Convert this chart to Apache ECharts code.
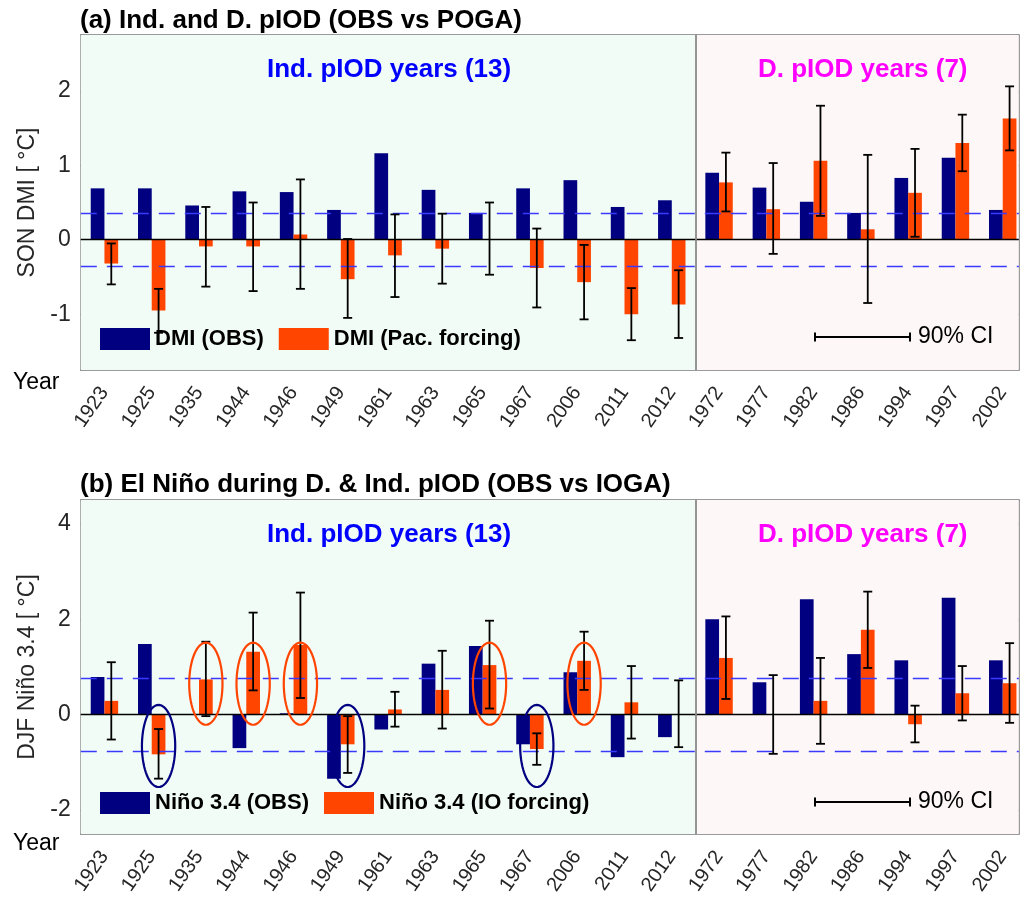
<!DOCTYPE html>
<html>
<head>
<meta charset="utf-8">
<script src="https://cdn.jsdelivr.net/npm/echarts@6/dist/echarts.min.js"></script>
<style>
  html, body { margin: 0; padding: 0; background: #fff; }
  #chart { width: 1026px; height: 901px; }
</style>
</head>
<body>
<div id="chart"></div>
<script>
// years: 13 independent pIOD years, then 7 dependent ones
const years = ['1923', '1925', '1935', '1944', '1946', '1949', '1961', '1963', '1965', '1967', '2006', '2011', '2012',
               '1972', '1977', '1982', '1986', '1994', '1997', '2002'];

// (a) SON DMI
const dmiObs  = [0.69, 0.69, 0.46, 0.65, 0.64, 0.40, 1.16, 0.67, 0.36, 0.69, 0.80, 0.44, 0.53, 0.90, 0.70, 0.51, 0.36, 0.83, 1.10, 0.40];
const dmiPac  = [-0.32, -0.95, -0.09, -0.09, 0.07, -0.53, -0.21, -0.12, 0.01, -0.38, -0.57, -1.00, -0.87, 0.77, 0.41, 1.06, 0.14, 0.63, 1.30, 1.63];
const dmiLow  = [-0.60, -1.25, -0.63, -0.69, -0.66, -1.05, -0.77, -0.59, -0.47, -0.91, -1.07, -1.35, -1.32, 0.38, -0.19, 0.32, -0.85, 0.04, 0.92, 1.20];
const dmiHigh = [-0.05, -0.66, 0.44, 0.50, 0.81, 0.01, 0.34, 0.35, 0.50, 0.15, -0.07, -0.65, -0.41, 1.17, 1.03, 1.80, 1.14, 1.22, 1.68, 2.06];
const dmiThr = 0.35;

// (b) DJF Nino 3.4
const ninoObs  = [0.79, 1.48, 0.01, -0.70, 0.03, -1.34, -0.31, 1.07, 1.44, -0.62, 0.89, -0.89, -0.47, 2.00, 0.68, 2.42, 1.27, 1.14, 2.45, 1.14];
const ninoIO   = [0.29, -0.83, 0.74, 1.32, 1.46, -0.62, 0.11, 0.52, 1.04, -0.72, 1.13, 0.26, 0.01, 1.19, 0.01, 0.29, 1.78, -0.20, 0.45, 0.66];
const ninoLow  = [-0.52, -1.34, -0.03, 0.51, 0.35, -1.22, -0.25, -0.29, 0.13, -1.05, 0.52, -0.50, -0.68, 0.33, -0.82, -0.61, 0.98, -0.58, -0.12, -0.17];
const ninoHigh = [1.10, -0.30, 1.53, 2.14, 2.56, -0.03, 0.48, 1.34, 1.97, -0.39, 1.74, 1.02, 0.72, 2.06, 0.83, 1.19, 2.58, 0.19, 1.02, 1.50];
const ninoThr = 0.77;

// circled years in (b) (1-based position), ring centre values
const orangeRings = [3, 4, 5, 9, 11];
const navyRings = [2, 6, 10];
const orangeRingY = 0.65;
const navyRingY = -0.655;

const NAVY = '#000080';
const ORANGE = '#ff4500';
const FONT = 'Liberation Sans, Arial, Helvetica, sans-serif';
const BW = 0.29;       // bar width in x units
const XMAX = 20.34;
const nInd = 13;

const chart = echarts.init(document.getElementById('chart'));

function xAxes(grid, bottom) {
  const ticks = [2, 4, 6, 8, 10, 12, 14, 16, 18, 20];
  return {
    type: 'value', gridIndex: grid, position: bottom ? 'bottom' : 'top',
    min: 0.5, max: XMAX,
    axisLine: { show: true, onZero: false, lineStyle: { color: '#7a7a7a', width: 1.5 } },
    axisTick: { show: true, inside: true, length: 9, customValues: ticks, lineStyle: { color: '#333', width: 1.2 } },
    axisLabel: bottom ? {
      show: true, customValues: years.map((y, i) => i + 1), rotate: 55, margin: 19,
      fontSize: 20, fontFamily: FONT, color: '#262626',
      formatter: v => years[Math.round(v) - 1]
    } : { show: false },
    splitLine: { show: false }
  };
}

function yAxes(grid, left, min, max, ticks, name) {
  return {
    type: 'value', gridIndex: grid, position: left ? 'left' : 'right',
    min: min, max: max,
    name: left ? name : '', nameLocation: 'middle', nameGap: 41,
    nameTextStyle: { fontSize: 23, fontFamily: FONT, color: '#262626' },
    axisLine: { show: true, onZero: false, lineStyle: { color: '#7a7a7a', width: 1.5 } },
    axisTick: { show: true, inside: true, length: 9, customValues: ticks, lineStyle: { color: '#333', width: 1.2 } },
    axisLabel: left ? { show: true, customValues: ticks, margin: 10, fontSize: 23, fontFamily: FONT, color: '#262626' } : { show: false },
    splitLine: { show: false }
  };
}

function barSeries(name, vals, color, side, ax) {
  return {
    type: 'custom', name: name, xAxisIndex: ax * 2, yAxisIndex: ax * 2, z: 3,
    itemStyle: { color: color },
    data: vals.map((v, i) => [i + 1, v]),
    renderItem: function (params, api) {
      const x = api.value(0), v = api.value(1);
      const x0 = side < 0 ? x - BW : x;
      const x1 = side < 0 ? x : x + BW;
      const p0 = api.coord([x0, v]);
      const p1 = api.coord([x1, 0]);
      return {
        type: 'rect',
        shape: { x: p0[0], y: Math.min(p0[1], p1[1]), width: p1[0] - p0[0], height: Math.abs(p1[1] - p0[1]) },
        style: { fill: color }
      };
    }
  };
}

function errSeries(low, high, ax) {
  return {
    type: 'custom', xAxisIndex: ax * 2, yAxisIndex: ax * 2, z: 5, silent: true,
    data: low.map((l, i) => [i + 1 + BW / 2, l, high[i]]),
    renderItem: function (params, api) {
      const a = api.coord([api.value(0), api.value(1)]);
      const b = api.coord([api.value(0), api.value(2)]);
      const st = { stroke: '#000', lineWidth: 1.8 };
      return {
        type: 'group', children: [
          { type: 'line', shape: { x1: a[0], y1: a[1], x2: b[0], y2: b[1] }, style: st },
          { type: 'line', shape: { x1: a[0] - 4.5, y1: a[1], x2: a[0] + 4.5, y2: a[1] }, style: st },
          { type: 'line', shape: { x1: b[0] - 4.5, y1: b[1], x2: b[0] + 4.5, y2: b[1] }, style: st }
        ]
      };
    }
  };
}

function ringSeries(pos, cy, color) {
  return {
    type: 'custom', xAxisIndex: 2, yAxisIndex: 2, z: 6, silent: true,
    data: pos.map(p => [p + BW / 2, cy]),
    renderItem: function (params, api) {
      const pts = [];
      for (let k = 0; k < 72; k++) {
        const t = k / 72 * Math.PI * 2;
        pts.push(api.coord([api.value(0) + 0.352 * Math.cos(t), api.value(1) + 0.86 * Math.sin(t)]));
      }
      return { type: 'polygon', shape: { points: pts }, style: { fill: 'none', stroke: color, lineWidth: 2.2 } };
    }
  };
}

function frameSeries(ax, thr) {
  const dash = { color: '#3a3aff', type: [16, 10], width: 1.3 };
  return {
    type: 'line', xAxisIndex: ax * 2, yAxisIndex: ax * 2, data: [], z: 4, silent: true,
    markLine: {
      symbol: 'none', silent: true, label: { show: false }, animation: false,
      data: [
        { yAxis: thr, lineStyle: dash },
        { yAxis: -thr, lineStyle: dash },
        { yAxis: 0, lineStyle: { color: '#000', type: 'solid', width: 1.3 } },
        { xAxis: nInd + 0.5, lineStyle: { color: '#8a8a8a', type: 'solid', width: 1.8 } }
      ]
    }
  };
}

function bgSeries(ax) {
  return {
    type: 'line', xAxisIndex: ax * 2, yAxisIndex: ax * 2, data: [], z: 0, silent: true,
    markArea: {
      silent: true, animation: false,
      data: [
        [{ xAxis: 0.5, itemStyle: { color: '#f2fcf6' } }, { xAxis: nInd + 0.5 }],
        [{ xAxis: nInd + 0.5, itemStyle: { color: '#fdf8f7' } }, { xAxis: XMAX }]
      ]
    }
  };
}

function txt(text, x, y, size, weight, color) {
  return {
    type: 'text', z: 20, x: x, y: y,
    style: { text: text, font: weight + ' ' + size + 'px ' + FONT, fill: color, textVerticalAlign: 'middle' }
  };
}

function ciKey(y) {
  const st = { stroke: '#000', lineWidth: 2 };
  return [
    { type: 'line', z: 20, shape: { x1: 815, y1: y, x2: 910, y2: y }, style: st },
    { type: 'line', z: 20, shape: { x1: 815, y1: y - 4.5, x2: 815, y2: y + 4.5 }, style: st },
    { type: 'line', z: 20, shape: { x1: 910, y1: y - 4.5, x2: 910, y2: y + 4.5 }, style: st },
    txt('90% CI', 918, y, 23, 'normal', '#000')
  ];
}

function legendFor(names, top, gap) {
  return {
    data: names.map(n => ({ name: n, icon: 'rect' })),
    left: 100, top: top, itemWidth: 50, itemHeight: 22, itemGap: gap, padding: 0, z: 10,
    selectedMode: false,
    textStyle: { fontSize: 22, fontWeight: 'bold', fontFamily: FONT, color: '#000', padding: [0, 0, 0, 0] }
  };
}

const option = {
  backgroundColor: '#fff',
  animation: false,
  grid: [
    { left: 80.8, top: 35, width: 938, height: 335 },
    { left: 80.8, top: 500, width: 938, height: 334 }
  ],
  xAxis: [xAxes(0, true), xAxes(0, false), xAxes(1, true), xAxes(1, false)],
  yAxis: [
    yAxes(0, true, -1.75, 2.75, [-1, 0, 1, 2], 'SON DMI [ °C]'),
    yAxes(0, false, -1.75, 2.75, [-1, 0, 1, 2]),
    yAxes(1, true, -2.5, 4.5, [-2, 0, 2, 4], 'DJF Niño 3.4 [ °C]'),
    yAxes(1, false, -2.5, 4.5, [-2, 0, 2, 4])
  ],
  legend: [
    legendFor(['DMI (OBS)', 'DMI (Pac. forcing)'], 328, 15),
    legendFor(['Niño 3.4 (OBS)', 'Niño 3.4 (IO forcing)'], 792, 15)
  ],
  graphic: [
    txt('(a) Ind. and D. pIOD (OBS vs POGA)', 80, 21, 26, 'bold', '#000'),
    txt('(b) El Niño during D. & Ind. pIOD (OBS vs IOGA)', 80, 485, 26, 'bold', '#000'),
    txt('Ind. pIOD years (13)', 267, 70, 26, 'bold', '#0000ff'),
    txt('D. pIOD years (7)', 758, 70, 26, 'bold', '#ff00ff'),
    txt('Ind. pIOD years (13)', 267, 535, 26, 'bold', '#0000ff'),
    txt('D. pIOD years (7)', 758, 535, 26, 'bold', '#ff00ff'),
    txt('Year', 13, 383, 23, 'normal', '#000'),
    txt('Year', 13, 844, 23, 'normal', '#000')
  ].concat(ciKey(337), ciKey(802)),
  series: [
    bgSeries(0),
    bgSeries(1),
    barSeries('DMI (OBS)', dmiObs, NAVY, -1, 0),
    barSeries('DMI (Pac. forcing)', dmiPac, ORANGE, 1, 0),
    barSeries('Niño 3.4 (OBS)', ninoObs, NAVY, -1, 1),
    barSeries('Niño 3.4 (IO forcing)', ninoIO, ORANGE, 1, 1),
    frameSeries(0, dmiThr),
    frameSeries(1, ninoThr),
    errSeries(dmiLow, dmiHigh, 0),
    errSeries(ninoLow, ninoHigh, 1),
    ringSeries(orangeRings, orangeRingY, ORANGE),
    ringSeries(navyRings, navyRingY, NAVY)
  ]
};

chart.setOption(option);
</script>
</body>
</html>
